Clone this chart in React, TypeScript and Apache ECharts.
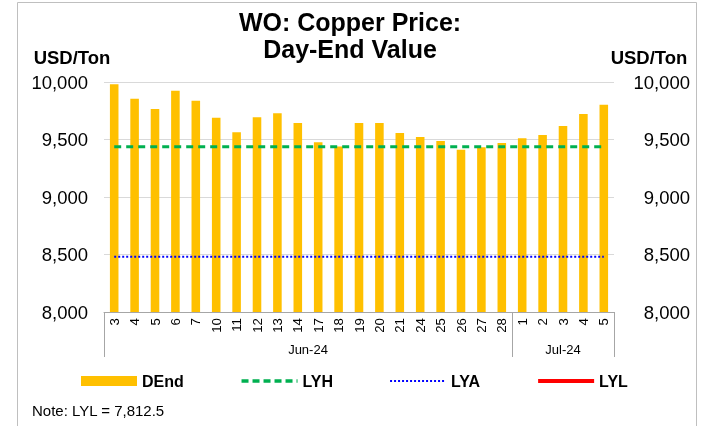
import React, { useEffect, useRef } from "react";
import * as echarts from "echarts";

const days = ["3", "4", "5", "6", "7", "10", "11", "12", "13", "14", "17", "18", "19", "20", "21", "24", "25", "26", "27", "28", "1", "2", "3", "4", "5"];
const months = ["Jun-24", "Jul-24"];
const monthCounts = [20, 5];
const dEnd = [9980, 9855, 9765, 9925, 9838, 9690, 9562, 9693, 9728, 9643, 9477, 9440, 9643, 9643, 9556, 9521, 9487, 9411, 9432, 9470, 9510, 9539, 9617, 9722, 9803];
const LYH = 9436;
const LYA = 8480;
const LYL = 7812.5;
const yMin = 8000;
const yMax = 10000;
const yStep = 500;

const FONT = "'Liberation Sans', Arial, sans-serif";

export default function App() {
  const ref = useRef<HTMLDivElement>(null);
  useEffect(() => {
    if (!ref.current) return;
    const chart = echarts.init(ref.current, undefined, { renderer: "svg" });
    const fmt = (v: number) => v.toLocaleString("en-US");
    chart.setOption({
      animation: false,
      textStyle: { fontFamily: FONT },
      grid: { left: 104, right: 90, top: 82, bottom: 114, containLabel: false },
      legend: {
        left: 76,
        top: 368,
        itemWidth: 56,
        itemHeight: 10,
        itemGap: 56,
        textStyle: { fontFamily: FONT, fontSize: 16, fontWeight: "bold", color: "#000" },
        data: [
          { name: "DEnd", icon: "rect" },
          { name: "LYH", itemStyle: { opacity: 0 }, lineStyle: { width: 3.5, type: [7, 4] } },
          { name: "LYA", itemStyle: { opacity: 0 }, lineStyle: { width: 2, type: [2, 2] } },
          { name: "LYL", itemStyle: { opacity: 0 }, lineStyle: { width: 4 } },
        ],
      },
      xAxis: {
        type: "category",
        data: days,
        boundaryGap: true,
        axisLine: { show: true, lineStyle: { color: "#a6a6a6", width: 1 } },
        axisTick: { show: false },
        axisLabel: { rotate: 90, fontSize: 13.3, color: "#000", margin: 6, interval: 0, fontFamily: FONT },
      },
      yAxis: [
        {
          type: "value",
          min: yMin,
          max: yMax,
          interval: yStep,
          position: "left",
          axisLine: { show: false },
          axisTick: { show: false },
          splitLine: { show: true, lineStyle: { color: "#d9d9d9", width: 1 } },
          axisLabel: { formatter: fmt, fontSize: 18.5, color: "#000", margin: 16, fontFamily: FONT },
        },
        {
          type: "value",
          min: yMin,
          max: yMax,
          interval: yStep,
          position: "right",
          axisLine: { show: false },
          axisTick: { show: false },
          splitLine: { show: false },
          axisLabel: { formatter: fmt, fontSize: 18.5, color: "#000", margin: 76, align: "right", fontFamily: FONT },
        },
      ],
      series: [
        {
          name: "DEnd",
          type: "bar",
          data: dEnd,
          barWidth: "42%",
          itemStyle: { color: "#FFC000" },
          z: 2,
        },
        {
          name: "LYH",
          type: "line",
          data: days.map(() => LYH),
          symbol: "none",
          lineStyle: { color: "#00B050", width: 3, type: [7, 5] },
          itemStyle: { color: "#00B050" },
          z: 3,
        },
        {
          name: "LYA",
          type: "line",
          data: days.map(() => LYA),
          symbol: "none",
          lineStyle: { color: "#0000FF", width: 2, type: [2, 2] },
          itemStyle: { color: "#0000FF" },
          z: 3,
        },
        {
          name: "LYL",
          type: "line",
          data: days.map(() => LYL),
          symbol: "none",
          clip: true,
          lineStyle: { color: "#FF0000", width: 3 },
          itemStyle: { color: "#FF0000" },
          z: 3,
        },
      ],
    });

    const p0 = chart.convertToPixel({ xAxisIndex: 0 }, 0) as number;
    const p1 = chart.convertToPixel({ xAxisIndex: 0 }, 1) as number;
    const band = p1 - p0;
    const start = p0 - band / 2;
    const axisY = chart.convertToPixel({ yAxisIndex: 0 }, yMin) as number;
    const yTop = chart.convertToPixel({ yAxisIndex: 0 }, yMax) as number;
    const sepBottom = axisY + 45;
    const graphics: any[] = [
      {
        type: "rect",
        shape: { x: 17.5, y: 2.5, width: 679, height: 440 },
        style: { fill: "none", stroke: "#bfbfbf", lineWidth: 1 },
        z: -1,
        silent: true,
      },
      {
        type: "text",
        x: 350,
        y: 22,
        style: { text: "WO: Copper Price:", font: `bold 25px ${FONT}`, fill: "#000", align: "center", verticalAlign: "middle" },
      },
      {
        type: "text",
        x: 350,
        y: 49,
        style: { text: "Day-End Value", font: `bold 25px ${FONT}`, fill: "#000", align: "center", verticalAlign: "middle" },
      },
      {
        type: "text",
        x: 72,
        y: yTop - 25,
        style: { text: "USD/Ton", font: `bold 18.5px ${FONT}`, fill: "#000", align: "center", verticalAlign: "middle" },
      },
      {
        type: "text",
        x: 649,
        y: yTop - 25,
        style: { text: "USD/Ton", font: `bold 18.5px ${FONT}`, fill: "#000", align: "center", verticalAlign: "middle" },
      },
      {
        type: "text",
        x: 32,
        y: 410,
        style: { text: "Note: LYL = " + LYL.toLocaleString("en-US", { minimumFractionDigits: 1 }), font: `15px ${FONT}`, fill: "#000", align: "left", verticalAlign: "middle" },
      },
    ];
    let idx = 0;
    const bounds = [0];
    monthCounts.forEach((c) => {
      idx += c;
      bounds.push(idx);
    });
    bounds.forEach((b) => {
      const x = Math.round(start + b * band) + 0.5;
      graphics.push({
        type: "line",
        shape: { x1: x, y1: axisY, x2: x, y2: sepBottom },
        style: { stroke: "#a6a6a6", lineWidth: 1 },
        silent: true,
      });
    });
    months.forEach((m, i) => {
      const xm = start + ((bounds[i] + bounds[i + 1]) / 2) * band;
      graphics.push({
        type: "text",
        x: xm,
        y: axisY + 37,
        style: { text: m, font: `13px ${FONT}`, fill: "#000", align: "center", verticalAlign: "middle" },
      });
    });
    chart.setOption({ graphic: graphics });

    return () => chart.dispose();
  }, []);
  return <div ref={ref} style={{ position: "fixed", left: 0, top: 0, width: 704, height: 426 }} />;
}
